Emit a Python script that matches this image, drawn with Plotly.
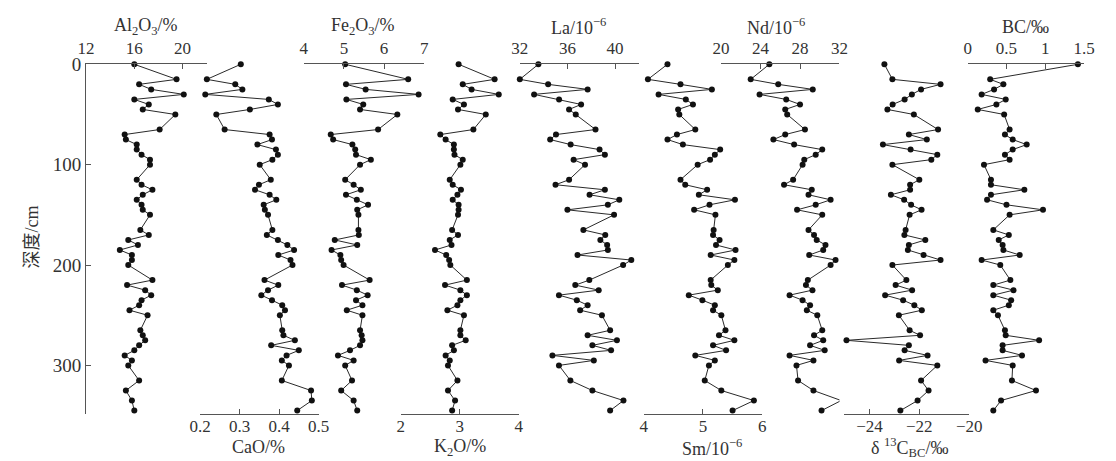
import plotly.graph_objects as go

# Sampling depths (cm)
depth = [0, 15, 20, 25, 30, 35, 40, 45, 50,
         65, 70, 75, 80, 85, 90, 95, 100,
         115, 120, 125, 130, 135, 140, 145, 150,
         165, 170, 175, 180, 185, 190, 195, 200,
         215, 220, 225, 230, 235, 240, 245, 250,
         265, 270, 275, 280, 285, 290, 295, 300,
         315, 325, 335, 345]

al2o3 = [16.0, 19.5, 16.4, 17.4, 20.1, 16.0, 17.2, 16.7, 19.4,
         18.1, 15.2, 15.3, 16.2, 16.2, 16.6, 17.3, 17.3,
         16.2, 16.6, 17.5, 16.7, 16.2, 16.6, 16.7, 17.3,
         16.5, 17.2, 15.5, 16.3, 14.8, 15.8, 15.8, 15.5,
         17.5, 15.4, 16.9, 17.4, 16.6, 16.4, 15.6, 17.1,
         16.5, 16.7, 16.9, 16.4, 16.0, 15.2, 15.8, 15.5,
         16.4, 15.3, 15.8, 16.0]

cao = [0.303, 0.217, 0.289, 0.307, 0.213, 0.374, 0.397, 0.326, 0.241,
       0.262, 0.376, 0.382, 0.345, 0.392, 0.397, 0.383, 0.351,
       0.379, 0.349, 0.339, 0.376, 0.393, 0.361, 0.364, 0.372,
       0.383, 0.369, 0.397, 0.421, 0.438, 0.398, 0.429, 0.434,
       0.363, 0.398, 0.372, 0.355, 0.382, 0.408, 0.415, 0.402,
       0.408, 0.411, 0.440, 0.380, 0.450, 0.419, 0.407, 0.425,
       0.407, 0.481, 0.483, 0.446]

fe2o3 = [5.03, 6.60, 5.05, 5.54, 6.86, 5.06, 5.48, 5.40, 6.33,
         5.85, 4.67, 4.73, 5.21, 5.28, 5.30, 5.67, 5.40,
         5.03, 5.24, 5.42, 5.05, 5.32, 5.60, 5.33, 5.36,
         5.36, 5.37, 4.77, 5.33, 4.69, 4.91, 4.93, 4.99,
         5.64, 4.95, 5.32, 5.59, 5.30, 5.46, 5.07, 5.46,
         5.40, 5.44, 5.46, 5.40, 5.15, 4.85, 5.24, 5.03,
         5.20, 4.93, 5.24, 5.33]

k2o = [2.98, 3.59, 3.05, 3.20, 3.66, 2.88, 3.07, 2.97, 3.44,
       3.23, 2.67, 2.76, 2.90, 2.90, 2.91, 3.05, 3.01,
       2.83, 2.88, 3.02, 2.96, 2.88, 2.98, 2.98, 2.97,
       2.87, 2.97, 2.83, 2.86, 2.58, 2.77, 2.82, 2.84,
       3.12, 2.75, 3.01, 3.12, 3.01, 2.96, 2.79, 3.07,
       3.01, 3.01, 3.10, 2.87, 2.90, 2.76, 2.83, 2.80,
       2.96, 2.80, 2.92, 2.87]

la = [33.56, 32.0, 34.38, 37.7, 33.2, 35.3, 37.15, 36.14, 36.7,
      38.36, 35.04, 34.55, 36.27, 38.7, 39.15, 36.52, 37.48,
      36.14, 35.0, 39.15, 37.86, 40.36, 39.4, 36.0, 39.92,
      37.34, 39.18, 38.77, 39.34, 39.4, 36.85, 41.37, 40.68,
      37.84, 36.66, 38.63, 35.29, 36.79, 37.7, 37.07, 38.9,
      39.59, 37.7, 40.16, 38.1, 39.67, 34.74, 38.22, 35.29,
      36.25, 38.1, 40.71, 39.59]

sm = [4.40, 4.07, 4.62, 5.15, 4.25, 4.71, 4.83, 4.58, 4.60,
      4.87, 4.56, 4.40, 4.66, 5.29, 5.20, 5.12, 4.91,
      4.62, 4.70, 5.07, 4.93, 5.54, 5.11, 4.85, 5.21,
      5.18, 5.17, 5.28, 5.22, 5.55, 5.13, 5.53, 5.42,
      5.13, 5.14, 5.25, 4.76, 4.99, 5.20, 5.17, 5.31,
      5.38, 5.27, 5.53, 5.17, 5.39, 4.87, 5.20, 5.10,
      5.03, 5.31, 5.86, 5.50]

nd = [24.89, 23.0, 25.79, 29.29, 23.9, 26.6, 28.0, 26.5, 26.7,
      28.5, 26.5, 25.3, 27.4, 30.25, 29.59, 28.43, 28.26,
      27.3, 26.38, 29.19, 28.86, 31.1, 29.59, 27.7, 30.25,
      28.86, 29.42, 29.69, 30.58, 30.35, 28.93, 31.6, 31.1,
      28.79, 28.6, 29.26, 26.94, 28.26, 29.02, 28.69, 29.75,
      30.25, 29.42, 30.35, 29.02, 30.5, 26.94, 29.36, 27.64,
      27.8, 29.36, 32.17, 30.18]

d13c_bc = [-23.40, -23.08, -21.15, -21.93, -22.30, -22.59, -23.07, -23.28, -22.22,
           -21.25, -22.42, -21.70, -23.46, -22.35, -21.28, -21.52, -23.08,
           -22.00, -22.37, -22.37, -23.14, -22.61, -22.33, -21.91, -22.39,
           -22.55, -22.60, -21.76, -22.42, -22.46, -21.83, -21.15, -23.08,
           -22.52, -22.95, -22.29, -23.37, -22.65, -22.20, -21.90, -22.82,
           -22.39, -21.97, -24.92, -22.42, -22.59, -21.67, -22.81, -21.28,
           -21.93, -21.63, -22.07, -22.76]

bc = [1.42, 0.29, 0.46, 0.34, 0.18, 0.49, 0.37, 0.13, 0.47,
      0.54, 0.48, 0.58, 0.76, 0.58, 0.48, 0.54, 0.21,
      0.30, 0.30, 0.73, 0.30, 0.25, 0.50, 0.97, 0.54,
      0.33, 0.53, 0.40, 0.45, 0.46, 0.67, 0.18, 0.42,
      0.55, 0.33, 0.59, 0.33, 0.56, 0.53, 0.33, 0.39,
      0.48, 0.49, 0.92, 0.45, 0.45, 0.70, 0.23, 0.58,
      0.57, 0.88, 0.43, 0.33]

# Axis tick values
al2o3_ticks = [12, 16, 20]
cao_ticks = [0.2, 0.3, 0.4, 0.5]
fe2o3_ticks = [4, 5, 6, 7]
k2o_ticks = [2, 3, 4]
la_ticks = [32, 36, 40]
sm_ticks = [4, 5, 6]
nd_ticks = [20, 24, 28, 32]
d13c_ticks = [-24, -22, -20]
bc_ticks = [0, 0.5, 1, 1.5]
depth_ticks = [0, 100, 200, 300]

W, H = 1116, 461
FONT = "Liberation Serif, Times New Roman, Noto Sans CJK SC, serif"
INK = "#333333"
AXC = "#555555"


def px_x(p):
    return p / W


def px_y(p):
    return 1 - p / H


TOP_PX, BOT_PX = 55.5, 413.0

# (name, values, axis range, ticks, side, left px, right px, title, title x px)
panels = [
    ("Al2O3", al2o3, [12, 22], al2o3_ticks, "top", 76.7, 200.0,
     "Al<sub>2</sub>O<sub>3</sub>/%", 138),
    ("CaO", cao, [0.2, 0.5], cao_ticks, "bottom", 193.3, 314.3, "CaO/%", 253),
    ("Fe2O3", fe2o3, [4, 7], fe2o3_ticks, "top", 299.3, 422.3,
     "Fe<sub>2</sub>O<sub>3</sub>/%", 360),
    ("K2O", k2o, [2, 4], k2o_ticks, "bottom", 398.3, 519.0,
     "K<sub>2</sub>O/%", 459),
    ("La", la, [32, 42], la_ticks, "top", 520.0, 641.6,
     "La/10<sup>−6</sup>", 580),
    ("Sm", sm, [4, 6], sm_ticks, "bottom", 646.7, 767.7,
     "Sm/10<sup>−6</sup>", 716),
    ("Nd", nd, [20, 32], nd_ticks, "top", 725.7, 846.7,
     "Nd/10<sup>−6</sup>", 782),
    ("d13C", d13c_bc, [-25, -20], d13c_ticks, "bottom", 851.8, 979.3,
     "δ <sup>13</sup>C<sub>BC</sub>/‰", 918),
    ("BC", bc, [0, 1.5], bc_ticks, "top", 977.7, 1096.7, "BC/‰", 1037),
]

fig = go.Figure()
layout = dict(
    width=W, height=H,
    margin=dict(l=0, r=0, t=0, b=0),
    paper_bgcolor="white", plot_bgcolor="rgba(0,0,0,0)",
    showlegend=False,
    font=dict(family=FONT, color=INK, size=17),
    annotations=[],
)

for i, (name, vals, rng, ticks, side, lo, hi, title, tx) in enumerate(panels):
    key = "xaxis" if i == 0 else f"xaxis{i + 1}"
    ref = "x" if i == 0 else f"x{i + 1}"
    fig.add_trace(go.Scatter(
        x=vals, y=depth, name=name, mode="lines+markers",
        xaxis=ref, yaxis="y", cliponaxis=False,
        line=dict(color="#2a2a2a", width=1),
        marker=dict(size=6, color="#111111"),
    ))
    ticktext = [("−" + str(abs(t))) if t < 0 else str(t) for t in ticks]
    layout[key] = dict(
        domain=[px_x(lo), px_x(hi)], range=rng, anchor="y", side=side,
        showline=True, linecolor=AXC, linewidth=1,
        ticks="inside", ticklen=5, tickcolor=AXC, tickwidth=1,
        tickvals=ticks, ticktext=ticktext,
        ticklabelstandoff=2 if side == "top" else -3,
        showgrid=False, zeroline=False, fixedrange=True,
        tickfont=dict(family=FONT, size=17, color=INK),
    )
    ty = 17 if side == "top" else 447
    layout["annotations"].append(dict(
        text=title, x=px_x(tx), y=px_y(ty), xref="paper", yref="paper",
        xanchor="center", yanchor="middle", showarrow=False,
        font=dict(family=FONT, size=18, color=INK),
    ))

layout["yaxis"] = dict(
    domain=[px_y(BOT_PX), px_y(TOP_PX)],
    range=[(BOT_PX - TOP_PX) / 1.026, 0], anchor="x", side="left",
    showline=True, linecolor=AXC, linewidth=1,
    ticks="inside", ticklen=5, tickcolor=AXC,
    tickvals=depth_ticks, showgrid=False, zeroline=False, fixedrange=True,
    tickfont=dict(family=FONT, size=19, color=INK),
)
layout["annotations"].append(dict(
    text="深度/cm", x=px_x(21), y=px_y(232), xref="paper", yref="paper",
    xanchor="center", yanchor="middle", textangle=-90, showarrow=False,
    font=dict(family=FONT, size=18, color=INK),
))

fig.update_layout(**layout)
fig.write_html("out.html")
